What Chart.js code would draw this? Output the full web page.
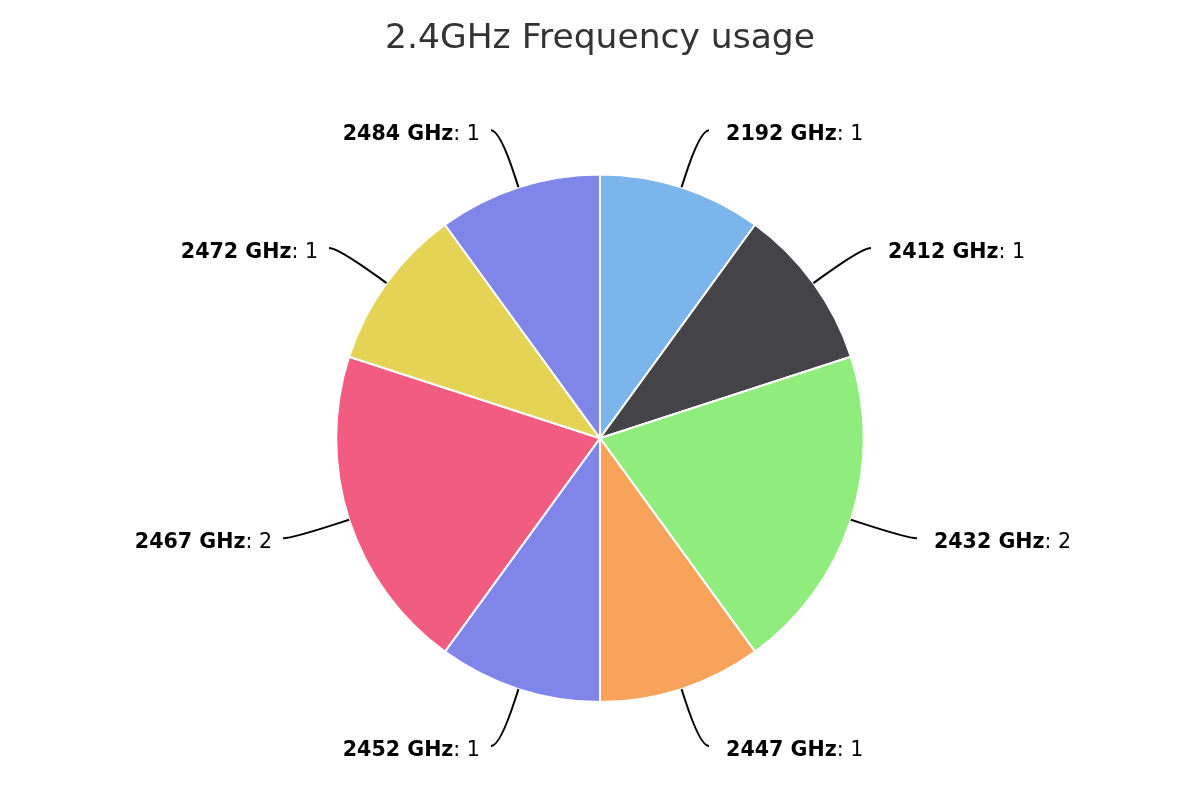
<!DOCTYPE html>
<html>
<head>
<meta charset="utf-8">
<script src="https://cdn.jsdelivr.net/npm/chart.js@4/dist/chart.umd.min.js"></script>
<style>
html,body{margin:0;padding:0;background:#fff;}
#wrap{width:1200px;height:800px;}
</style>
</head>
<body>
<div id="wrap"><canvas id="c" width="1200" height="800"></canvas></div>
<script>
const titleText = '2.4GHz Frequency usage';
const categories = ['2192 GHz', '2412 GHz', '2432 GHz', '2447 GHz', '2452 GHz', '2467 GHz', '2472 GHz', '2484 GHz'];
const values = [1, 1, 2, 1, 1, 2, 1, 1];
const sliceColors = ['#7cb5ec', '#434348', '#90ed7d', '#f7a35c', '#8085e9', '#f15c80', '#e4d354', '#8085e9'];

const FONT = '"DejaVu Sans", Verdana, sans-serif';

const labelPlugin = {
  id: 'pieLabels',
  afterDatasetsDraw(chart) {
    const ctx = chart.ctx;
    const meta = chart.getDatasetMeta(0);
    const D = 60, OFF = 11, TAIL = 9;
    ctx.save();
    meta.data.forEach((arc, i) => {
      const p = arc.getProps(['x', 'y', 'startAngle', 'endAngle', 'outerRadius'], true);
      const mid = (p.startAngle + p.endAngle) / 2;
      const cs = Math.cos(mid), sn = Math.sin(mid);
      const R = p.outerRadius;
      const right = cs >= 0;
      const sign = right ? 1 : -1;
      const tx = p.x + R * cs, ty = p.y + R * sn;
      const bx = tx + OFF * cs, by = ty + OFF * sn;
      const ly = p.y + (R + D) * sn;
      const lx = p.x + sign * (R + D) * Math.abs(cs);
      ctx.beginPath();
      ctx.moveTo(lx + sign * TAIL, ly);
      ctx.bezierCurveTo(lx, ly, 2 * bx - tx, 2 * by - ty, bx, by);
      ctx.lineTo(tx, ty);
      ctx.strokeStyle = '#000000';
      ctx.lineWidth = 2;
      ctx.stroke();

      const name = chart.data.labels[i];
      const val = ': ' + chart.data.datasets[0].data[i];
      const boldFont = 'bold 20.6px ' + FONT;
      const normFont = '20.6px ' + FONT;
      ctx.font = boldFont;
      const wb = ctx.measureText(name).width;
      ctx.font = normFont;
      const wn = ctx.measureText(val).width;
      let startX = right ? lx + 26 : lx - 20 - (wb + wn);
      const baseY = ly + 10;
      ctx.fillStyle = '#000000';
      ctx.textBaseline = 'alphabetic';
      ctx.textAlign = 'left';
      ctx.font = boldFont;
      ctx.fillText(name, startX, baseY);
      ctx.font = normFont;
      ctx.fillText(val, startX + wb, baseY);
    });
    ctx.restore();
  }
};

new Chart(document.getElementById('c'), {
  type: 'pie',
  data: {
    labels: categories,
    datasets: [{
      data: values,
      backgroundColor: sliceColors,
      borderColor: '#ffffff',
      borderWidth: 2,
      hoverOffset: 0
    }]
  },
  options: {
    responsive: false,
    devicePixelRatio: 1,
    animation: false,
    layout: { padding: { top: 0, bottom: 97, left: 0, right: 0 } },
    plugins: {
      legend: { display: false },
      tooltip: { enabled: false },
      title: {
        display: true,
        text: titleText,
        color: '#333333',
        font: { family: FONT, size: 34.5, weight: 'normal', lineHeight: 1.2 },
        padding: { top: 18, bottom: 114 }
      }
    },
    events: []
  },
  plugins: [labelPlugin]
});
</script>
</body>
</html>
